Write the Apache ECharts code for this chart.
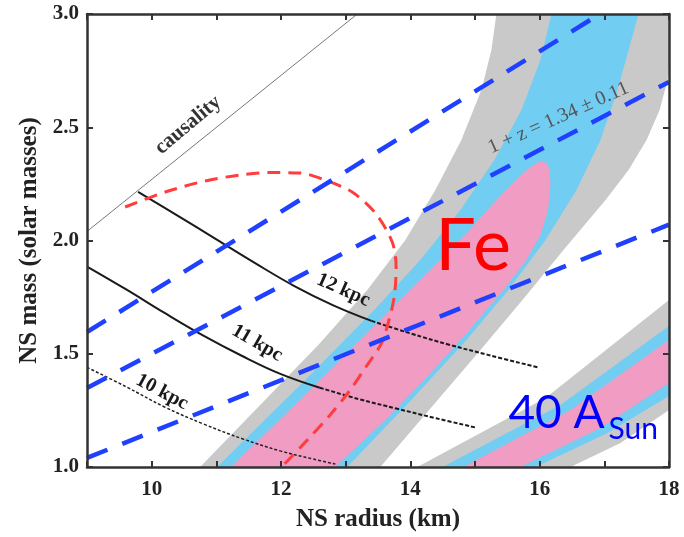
<!DOCTYPE html>
<html><head><meta charset="utf-8">
<script src="https://cdn.jsdelivr.net/npm/echarts@6/dist/echarts.min.js"></script>
<style>html,body{margin:0;padding:0;background:#fff}#c{width:684px;height:537px}</style>
</head><body><div id="c"></div>
<script>
// ---- axis ranges / ticks ----
const xRange = [9, 18];
const yRange = [1.0, 3.0];
const xLabelValues = [10, 12, 14, 16, 18];

// ---- upper (Fe) band boundaries [radius km, mass] ----
const upperGrayLeft  = [[10.749,1.0],[11.678,1.274],[12.576,1.539],[13.334,1.781],[13.923,2.002],[14.387,2.223],[14.789,2.444],[15.099,2.664],[15.254,2.841],[15.331,3.0]];
const upperGrayRight = [[13.536,1.0],[15.084,1.517],[15.734,1.737],[16.368,1.958],[17.019,2.179],[17.375,2.311],[17.653,2.444],[17.855,2.576],[17.978,2.709],[18.0,2.770],[18.0,3.0]];
const upperBlueLeft  = [[11.012,1.0],[12.375,1.384],[13.412,1.684],[14.155,1.914],[14.774,2.135],[15.300,2.355],[15.718,2.576],[16.012,2.797],[16.183,3.0]];
const upperBlueRight = [[13.025,1.0],[14.015,1.296],[14.867,1.561],[15.517,1.781],[16.090,2.002],[16.570,2.223],[16.941,2.444],[17.204,2.664],[17.529,3.0]];
const upperPinkLeft  = [[11.229,1.0],[12.607,1.384],[13.381,1.605],[14.155,1.826],[14.774,2.002],[15.192,2.135],[15.393,2.196],[15.579,2.249],[15.734,2.294],[15.873,2.329],[16.012,2.351]];
const upperPinkRight = [[16.105,2.342],[16.152,2.311],[16.167,2.258],[16.152,2.188],[16.121,2.126],[16.012,2.024],[15.796,1.914],[15.440,1.781],[14.913,1.605],[14.217,1.384],[13.613,1.208],[12.839,1.0]];

// ---- lower (40 A_Sun) band boundaries ----
const lowerGrayUpper = [[14.108,1.0],[16.09,1.305],[18.0,1.737]];
const lowerBlueUpper = [[14.495,1.0],[16.32,1.274],[18.0,1.622]];
const lowerPinkUpper = [[14.82,1.0],[16.477,1.252],[18.0,1.561]];
const lowerPinkLower = [[15.70,1.0],[16.94,1.172],[18.0,1.371]];
const lowerBlueLower = [[15.935,1.0],[17.02,1.146],[18.0,1.313]];
const lowerGrayLower = [[16.477,1.0],[17.25,1.106],[18.0,1.252]];

// ---- curves ----
const causality = [[9.0,2.04],[13.18,3.0]];
const redDashed = [[9.59,2.148],[10.21,2.214],[10.83,2.263],[11.37,2.289],[11.85,2.30],[12.30,2.298],[12.68,2.267],[13.10,2.214],[13.46,2.121],[13.72,1.993],[13.78,1.883],[13.75,1.75],[13.64,1.618],[13.54,1.539],[13.30,1.437],[13.07,1.34],[12.76,1.23],[12.41,1.12],[12.11,1.03],[12.0,1.0]];
const blueLine1 = [[9.0,1.596],[16.93,3.0]];
const blueLine2 = [[9.0,1.349],[18.0,2.70]];
const blueLine3 = [[9.0,1.04],[18.0,2.07]];
const kpc12Solid  = [[9.79,2.215],[10.4,2.11],[11.0,2.005],[11.6,1.9],[12.2,1.8],[12.8,1.715],[13.4,1.645]];
const kpc12Dotted = [[13.4,1.645],[14.0,1.59],[14.6,1.54],[15.2,1.495],[15.97,1.44]];
const kpc11Solid  = [[9.0,1.885],[9.6,1.785],[10.2,1.68],[10.8,1.58],[11.4,1.49],[12.0,1.41],[12.6,1.35]];
const kpc11Dotted = [[12.6,1.35],[13.2,1.30],[13.8,1.257],[14.4,1.215],[15.0,1.175]];
const kpc10Dotted = [[9.0,1.44],[9.6,1.355],[10.2,1.265],[10.8,1.19],[11.4,1.125],[12.0,1.07],[12.5,1.035],[12.84,1.013]];

const GRAY = '#c9c9c9', BLUE = '#71cef2', PINK = '#f19cc2';
const SERIF = '"Liberation Serif", "DejaVu Serif", serif';

function poly(a, b) { return a.concat(b.slice().reverse()); }
function polySeries(pts, color) {
  return {
    type: 'custom', coordinateSystem: 'cartesian2d', silent: true, z: 1,
    data: pts,
    renderItem: function (params, api) {
      if (params.dataIndex !== 0) return null;
      return { type: 'polygon', shape: { points: pts.map(p => api.coord(p)) }, style: { fill: color } };
    }
  };
}
function lineSeries(data, color, width, type, smooth) {
  return { type: 'line', data: data, symbol: 'none', smooth: smooth, z: 3, silent: true,
    lineStyle: { color: color, width: width, type: type, cap: 'butt' } };
}

const axisLine = { show: true, onZero: false, lineStyle: { color: '#333', width: 2.5 } };
const axisTick = { show: true, inside: true, length: 6, lineStyle: { color: '#333', width: 2 } };
const labelFont = { fontFamily: SERIF, fontWeight: 'bold', fontSize: 21, color: '#222' };

const chart = echarts.init(document.getElementById('c'));
const option = {
  animation: false,
  grid: { left: 87, right: 15, top: 14, bottom: 70 },
  xAxis: [
    { type: 'value', min: xRange[0], max: xRange[1], interval: 1, position: 'bottom', z: 5,
      axisLine, axisTick, splitLine: { show: false },
      axisLabel: Object.assign({ margin: 12, formatter: v => xLabelValues.includes(v) ? String(v) : '' }, labelFont),
      name: 'NS radius (km)', nameLocation: 'middle', nameGap: 40,
      nameTextStyle: { fontFamily: SERIF, fontWeight: 'bold', fontSize: 25, color: '#222' } },
    { type: 'value', min: xRange[0], max: xRange[1], interval: 1, position: 'top', z: 5,
      axisLine, axisTick, splitLine: { show: false }, axisLabel: { show: false } }
  ],
  yAxis: [
    { type: 'value', min: yRange[0], max: yRange[1], interval: 0.5, position: 'left', z: 5,
      axisLine, axisTick, splitLine: { show: false },
      axisLabel: Object.assign({ margin: 8, formatter: v => v.toFixed(1) }, labelFont),
      name: 'NS mass (solar masses)', nameLocation: 'middle', nameGap: 45, nameRotate: 90,
      nameTextStyle: { fontFamily: SERIF, fontWeight: 'bold', fontSize: 25, color: '#222' } },
    { type: 'value', min: yRange[0], max: yRange[1], interval: 0.5, position: 'right', z: 5,
      axisLine, axisTick, splitLine: { show: false }, axisLabel: { show: false } }
  ],
  series: [
    polySeries(poly(upperGrayLeft, upperGrayRight), GRAY),
    polySeries(poly(upperBlueLeft, upperBlueRight), BLUE),
    polySeries(upperPinkLeft.concat(upperPinkRight), PINK),
    polySeries(poly(lowerGrayUpper, lowerGrayLower), GRAY),
    polySeries(poly(lowerBlueUpper, lowerBlueLower), BLUE),
    polySeries(poly(lowerPinkUpper, lowerPinkLower), PINK),
    lineSeries(causality, '#777', 1, 'solid', false),
    lineSeries(kpc12Solid, '#1a1a1a', 2, 'solid', 0.4),
    lineSeries(kpc12Dotted, '#1a1a1a', 2, [4, 2], 0.4),
    lineSeries(kpc11Solid, '#1a1a1a', 2, 'solid', 0.4),
    lineSeries(kpc11Dotted, '#1a1a1a', 2, [4, 2], 0.4),
    lineSeries(kpc10Dotted, '#222', 1.5, [3, 2], 0.4),
    lineSeries(redDashed, '#ff3d3d', 3, [13, 8], 0.3),
    lineSeries(blueLine1, '#1f40ff', 4.5, [22, 16], false),
    lineSeries(blueLine2, '#1f40ff', 4.5, [22, 16], false),
    lineSeries(blueLine3, '#1f40ff', 4.5, [22, 16], false)
  ]
};
chart.setOption(option);

// ---- text annotations anchored at data coordinates ----
const annotations = [
  { text: 'causality', at: [10.563, 2.510], rot: 40, size: 21, weight: 'bold', family: SERIF, color: '#333', align: 'center' },
  { text: '12 kpc', at: [12.963, 1.781], rot: -24, size: 20, weight: 'bold', family: SERIF, color: '#1a1a1a', align: 'center' },
  { text: '11 kpc', at: [11.632, 1.547], rot: -30, size: 20, weight: 'bold', family: SERIF, color: '#1a1a1a', align: 'center' },
  { text: '10 kpc', at: [10.161, 1.331], rot: -28, size: 20, weight: 'bold', family: SERIF, color: '#1a1a1a', align: 'center' },
  { text: '1 + z = 1.34 \u00b1 0.11', at: [16.29, 2.541], rot: 24, size: 20, weight: 'normal', family: SERIF, color: '#555', align: 'center' },
  { text: 'Fe', at: [14.387, 1.973], rot: 0, size: 72, weight: 'normal', family: 'Lato, "Open Sans", sans-serif', color: '#ff0000', align: 'left' },
  { text: '40 A', at: [15.517, 1.236], rot: 0, size: 46, weight: 'normal', family: 'Lato, "Open Sans", sans-serif', color: '#0000ff', align: 'left' },
  { text: 'Sun', at: [17.065, 1.168], rot: 0, size: 30, weight: 'normal', family: 'Lato, "Open Sans", sans-serif', color: '#0000ff', align: 'left' }
];
chart.setOption({
  graphic: annotations.map(a => {
    const p = chart.convertToPixel({ gridIndex: 0 }, a.at);
    return { type: 'text', x: p[0], y: p[1], rotation: a.rot * Math.PI / 180, z: 10, silent: true,
      style: { text: a.text, fill: a.color, fontSize: a.size, fontWeight: a.weight, fontFamily: a.family,
        align: a.align, verticalAlign: 'middle' } };
  })
});
</script></body></html>
